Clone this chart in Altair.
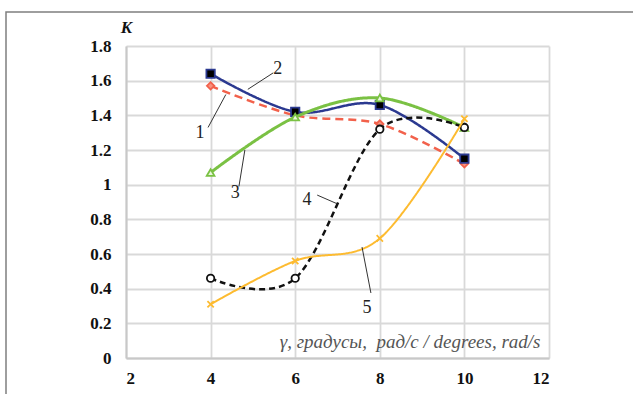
import altair as alt
import pandas as pd

# ---- data ----
x_vals = [4, 6, 8, 10]
k1 = [1.57, 1.40, 1.35, 1.12]
k2 = [1.64, 1.42, 1.46, 1.15]
k3 = [1.07, 1.39, 1.50, 1.33]
k4 = [0.46, 0.46, 1.32, 1.33]
k5 = [0.31, 0.56, 0.69, 1.38]

series_names = ["1", "2", "3", "4", "5"]
series_vals = [k1, k2, k3, k4, k5]

# annotation labels (data units) and leader lines
ann_labels = ["1", "2", "3", "4", "5"]
ann_x = [3.75, 5.59, 4.58, 6.28, 7.70]
ann_y = [1.30, 1.67, 0.95, 0.91, 0.29]
lead_x1 = [3.94, 5.48, 4.67, 6.52, 7.79]
lead_y1 = [1.33, 1.645, 0.99, 0.94, 0.375]
lead_x2 = [4.36, 4.88, 4.81, 6.99, 7.58]
lead_y2 = [1.52, 1.55, 1.20, 0.89, 0.64]

x_title = "γ, градусы,\u00a0 рад/с / degrees, rad/s"
y_title = "K"

FONT = "Liberation Serif, Times New Roman, DejaVu Serif, serif"
XCROSS = "M-1,-1L1,1M-1,1L1,-1"

styles = {
    "1": dict(color="#F2614B", dash=[8, 5], width=2.5, shape="diamond", fill="#F7917F", stroke="#F2614B", size=55, filled=True),
    "2": dict(color="#2B3990", dash=[1, 0], width=2.5, shape="square", fill="#000000", stroke="#2B3990", size=70, filled=True),
    "3": dict(color="#7AC143", dash=[1, 0], width=3, shape="triangle-up", fill="#E8F5DC", stroke="#7AC143", size=60, filled=True),
    "4": dict(color="#111111", dash=[6, 4], width=2.5, shape="circle", fill="#FFFFFF", stroke="#111111", size=55, filled=True),
    "5": dict(color="#FDBB30", dash=[1, 0], width=2, shape=XCROSS, fill="#FDBB30", stroke="#FDBB30", size=40, filled=False),
}

rows = []
for name, vals in zip(series_names, series_vals):
    for xv, yv in zip(x_vals, vals):
        rows.append({"series": name, "x": xv, "y": yv})
df = pd.DataFrame(rows)

ann_df = pd.DataFrame({"label": ann_labels, "x": ann_x, "y": ann_y})
lead_df = pd.DataFrame({"x": lead_x1, "y": lead_y1, "x2": lead_x2, "y2": lead_y2})

xscale = alt.Scale(domain=[2, 12], nice=False, zero=False)
yscale = alt.Scale(domain=[0, 1.8], nice=False)

x_axis = alt.Axis(
    values=[2, 4, 6, 8, 10, 12], title=x_title, ticks=False, labelPadding=12,
    labelFont=FONT, labelFontSize=17, labelFontWeight="bold", labelColor="#111111",
    titleFont=FONT, titleFontSize=19, titleFontStyle="italic", titleFontWeight="normal",
    titleColor="#555555", titleAnchor="end", titleAlign="right", titleX=414, titleY=-11,
    titleBaseline="alphabetic",
)
y_axis = alt.Axis(
    values=[0, 0.2, 0.4, 0.6, 0.8, 1.0, 1.2, 1.4, 1.6, 1.8], format=".1~f", title=y_title,
    ticks=False, labelPadding=15,
    labelFont=FONT, labelFontSize=17, labelFontWeight="bold", labelColor="#111111",
    titleFont=FONT, titleFontSize=17, titleFontStyle="italic", titleFontWeight="bold",
    titleColor="#111111", titleAngle=0, titleX=0, titleY=-14, titleAlign="center",
    titleBaseline="alphabetic",
)

X = alt.X("x:Q", scale=xscale, axis=x_axis)
Y = alt.Y("y:Q", scale=yscale, axis=y_axis)

base = alt.Chart(df)

layers = []
for name in series_names:
    s = styles[name]
    sub = base.transform_filter(alt.datum.series == name)
    line = sub.mark_line(
        interpolate="cardinal", tension=0, color=s["color"], strokeWidth=s["width"],
        strokeDash=s["dash"],
    ).encode(x=X, y=Y)
    pts = sub.mark_point(
        shape=s["shape"], filled=s["filled"], fill=s["fill"] if s["filled"] else None,
        stroke=s["stroke"], strokeWidth=1.8, size=s["size"], opacity=1,
    ).encode(x=X, y=Y)
    layers += [line, pts]

leaders = alt.Chart(lead_df).mark_rule(color="#333333", strokeWidth=1).encode(
    x=X, y=Y, x2="x2:Q", y2="y2:Q",
)
labels = alt.Chart(ann_df).mark_text(
    font=FONT, fontSize=18, color="#222222", align="center", baseline="middle",
).encode(x=X, y=Y, text="label:N")

frame = alt.Chart(pd.DataFrame({"a": [0]})).mark_rect(
    fill=None, stroke="#7f7f7f", strokeWidth=1.5
).encode(
    x=alt.value(-120), x2=alt.value(620), y=alt.value(-34), y2=alt.value(420)
)

chart = alt.layer(frame, *layers, leaders, labels).properties(
    width=423, height=312,
    autosize=alt.AutoSizeParams(type="none"),
    padding={"left": 126, "top": 46, "right": 84, "bottom": 36},
    background="white",
).configure_view(stroke=None).configure_axis(
    grid=True, gridColor="#d9d9d9", gridWidth=1.8,
    domainColor="#c8c8c8", domainWidth=2,
)

chart.save("out.html", embed_options={"renderer": "svg", "actions": False})
